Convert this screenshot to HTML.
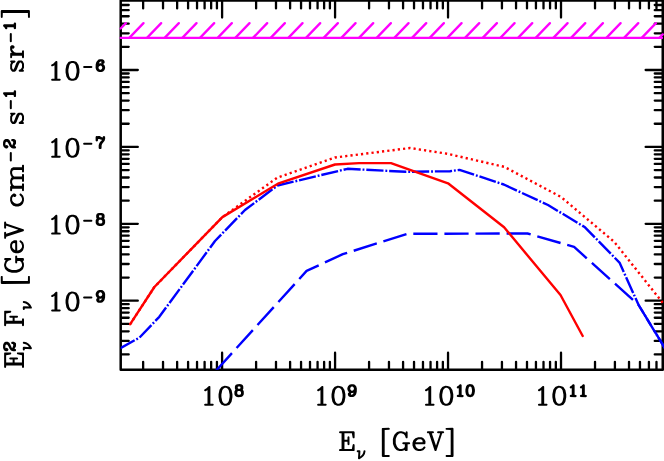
<!DOCTYPE html>
<html><head><meta charset="utf-8"><title>plot</title>
<style>html,body{margin:0;padding:0;background:#fff;font-family:"Liberation Sans",sans-serif}svg{display:block}</style>
</head><body>
<svg width="664" height="461" viewBox="0 0 664 461">
<rect width="664" height="461" fill="#fff"/>
<path d="M143.14,369.2v-7.4M143.14,1.05v7.4M163.03,369.2v-7.4M163.03,1.05v7.4M177.14,369.2v-7.4M177.14,1.05v7.4M188.09,369.2v-7.4M188.09,1.05v7.4M197.04,369.2v-7.4M197.04,1.05v7.4M204.60,369.2v-7.4M204.60,1.05v7.4M211.15,369.2v-7.4M211.15,1.05v7.4M216.93,369.2v-7.4M216.93,1.05v7.4M222.10,369.2v-16.5M222.10,1.05v16.5M256.11,369.2v-7.4M256.11,1.05v7.4M276.00,369.2v-7.4M276.00,1.05v7.4M290.11,369.2v-7.4M290.11,1.05v7.4M301.06,369.2v-7.4M301.06,1.05v7.4M310.01,369.2v-7.4M310.01,1.05v7.4M317.57,369.2v-7.4M317.57,1.05v7.4M324.12,369.2v-7.4M324.12,1.05v7.4M329.90,369.2v-7.4M329.90,1.05v7.4M335.07,369.2v-16.5M335.07,1.05v16.5M369.08,369.2v-7.4M369.08,1.05v7.4M388.97,369.2v-7.4M388.97,1.05v7.4M403.08,369.2v-7.4M403.08,1.05v7.4M414.03,369.2v-7.4M414.03,1.05v7.4M422.98,369.2v-7.4M422.98,1.05v7.4M430.54,369.2v-7.4M430.54,1.05v7.4M437.09,369.2v-7.4M437.09,1.05v7.4M442.87,369.2v-7.4M442.87,1.05v7.4M448.04,369.2v-16.5M448.04,1.05v16.5M482.05,369.2v-7.4M482.05,1.05v7.4M501.94,369.2v-7.4M501.94,1.05v7.4M516.05,369.2v-7.4M516.05,1.05v7.4M527.00,369.2v-7.4M527.00,1.05v7.4M535.95,369.2v-7.4M535.95,1.05v7.4M543.51,369.2v-7.4M543.51,1.05v7.4M550.06,369.2v-7.4M550.06,1.05v7.4M555.84,369.2v-7.4M555.84,1.05v7.4M561.01,369.2v-16.5M561.01,1.05v16.5M595.02,369.2v-7.4M595.02,1.05v7.4M614.91,369.2v-7.4M614.91,1.05v7.4M629.02,369.2v-7.4M629.02,1.05v7.4M639.97,369.2v-7.4M639.97,1.05v7.4M648.92,369.2v-7.4M648.92,1.05v7.4M656.48,369.2v-7.4M656.48,1.05v7.4M121.3,354.45h7.4M662.15,354.45h-7.4M121.3,340.91h7.4M662.15,340.91h-7.4M121.3,331.30h7.4M662.15,331.30h-7.4M121.3,323.85h7.4M662.15,323.85h-7.4M121.3,317.76h7.4M662.15,317.76h-7.4M121.3,312.61h7.4M662.15,312.61h-7.4M121.3,308.15h7.4M662.15,308.15h-7.4M121.3,304.22h7.4M662.15,304.22h-7.4M121.3,300.70h16.5M662.15,300.70h-16.5M121.3,277.55h7.4M662.15,277.55h-7.4M121.3,264.01h7.4M662.15,264.01h-7.4M121.3,254.40h7.4M662.15,254.40h-7.4M121.3,246.95h7.4M662.15,246.95h-7.4M121.3,240.86h7.4M662.15,240.86h-7.4M121.3,235.71h7.4M662.15,235.71h-7.4M121.3,231.25h7.4M662.15,231.25h-7.4M121.3,227.32h7.4M662.15,227.32h-7.4M121.3,223.80h16.5M662.15,223.80h-16.5M121.3,200.65h7.4M662.15,200.65h-7.4M121.3,187.11h7.4M662.15,187.11h-7.4M121.3,177.50h7.4M662.15,177.50h-7.4M121.3,170.05h7.4M662.15,170.05h-7.4M121.3,163.96h7.4M662.15,163.96h-7.4M121.3,158.81h7.4M662.15,158.81h-7.4M121.3,154.35h7.4M662.15,154.35h-7.4M121.3,150.42h7.4M662.15,150.42h-7.4M121.3,146.90h16.5M662.15,146.90h-16.5M121.3,123.75h7.4M662.15,123.75h-7.4M121.3,110.21h7.4M662.15,110.21h-7.4M121.3,100.60h7.4M662.15,100.60h-7.4M121.3,93.15h7.4M662.15,93.15h-7.4M121.3,87.06h7.4M662.15,87.06h-7.4M121.3,81.91h7.4M662.15,81.91h-7.4M121.3,77.45h7.4M662.15,77.45h-7.4M121.3,73.52h7.4M662.15,73.52h-7.4M121.3,70.00h16.5M662.15,70.00h-16.5M121.3,46.85h7.4M662.15,46.85h-7.4M121.3,33.31h7.4M662.15,33.31h-7.4M121.3,23.70h7.4M662.15,23.70h-7.4M121.3,16.25h7.4M662.15,16.25h-7.4M121.3,10.16h7.4M662.15,10.16h-7.4M121.3,5.01h7.4M662.15,5.01h-7.4" stroke="#000" stroke-width="2.3" fill="none" stroke-linecap="round"/>
<path d="M120.7,0.45H662.75V369.8H120.7Z" stroke="#000" stroke-width="2.5" fill="none" stroke-linejoin="round"/>
<clipPath id="c"><rect x="120.7" y="0" width="543.3" height="369.8"/></clipPath>
<g clip-path="url(#c)" fill="none" stroke-width="2.4" stroke-linejoin="round">
<path d="M208,379.5 L217.3,369.3 L306.6,270.9 L342.8,254.2 L407.5,233.8 L527.5,233.5 L574.1,246.9 L638.6,305 L666,350" stroke="#00f" stroke-dasharray="24.2 6.9" stroke-dashoffset="19.7"/>
<path d="M118,349.5 L139.5,337.6 L159.3,316.8 L215,241 L245,210 L277.5,185.5 L347.5,168.8 L405.5,171.8 L450,171.2 L459.5,169.9 L503.8,184.5 L548,205 L585,227.3 L619.5,262.6 L638.6,305 L666,350" stroke="#00f" stroke-dasharray="17.2 1.9 1.87 1.9" stroke-dashoffset="21.05"/>
<path d="M130.2,324.2 L154.4,287.0 L222.4,217.1 L277.5,177.5 L335,157.5 L410,148 L447.5,153.8 L504.5,166.9 L561.2,197.1 L614.3,241.9 L664,304.4" stroke="#f00" stroke-dasharray="2.2 3.1"/>
<path d="M130.2,324.2 L154.4,287.0 L222.4,217.1 L277.9,183.7 L335,164.5 L359,163.1 L391.0,163.1 L448,183.3 L504.1,227.3 L560.5,295 L582.7,336.0" stroke="#f00" stroke-linecap="round"/>
</g>
<path d="M120.70,28.45L125.83,23.10M129.30,37.90L143.50,23.10M146.97,37.90L161.17,23.10M164.64,37.90L178.84,23.10M182.31,37.90L196.51,23.10M199.98,37.90L214.18,23.10M217.65,37.90L231.85,23.10M235.32,37.90L249.52,23.10M252.99,37.90L267.19,23.10M270.66,37.90L284.86,23.10M288.33,37.90L302.53,23.10M306.00,37.90L320.20,23.10M323.67,37.90L337.87,23.10M341.34,37.90L355.54,23.10M359.01,37.90L373.21,23.10M376.68,37.90L390.88,23.10M394.35,37.90L408.55,23.10M412.02,37.90L426.22,23.10M429.69,37.90L443.89,23.10M447.36,37.90L461.56,23.10M465.03,37.90L479.23,23.10M482.70,37.90L496.90,23.10M500.37,37.90L514.57,23.10M518.04,37.90L532.24,23.10M535.71,37.90L549.91,23.10M553.38,37.90L567.58,23.10M571.05,37.90L585.25,23.10M588.72,37.90L602.92,23.10M606.39,37.90L620.59,23.10M624.06,37.90L638.26,23.10M641.73,37.90L655.93,23.10M659.40,37.90L662.75,34.41" stroke="#f0f" stroke-width="2.3" fill="none" stroke-linecap="round"/>
<path d="M120.7,37.9H662.0" stroke="#f0f" stroke-width="2.3" fill="none" stroke-linecap="round"/>
<path transform="translate(200.00,404.70)" d="M24.62,-18.88 21.88,-18.00 21.25,-17.56 19.62,-15.12 19.38,-14.50 18.56,-10.44 18.56,-7.38 19.44,-3.06 21.25,-0.31 21.81,0.12 24.25,0.94 26.38,1.00 29.06,0.19 29.75,-0.31 31.44,-2.81 31.62,-3.31 32.44,-7.38 32.44,-10.44 31.56,-14.75 29.75,-17.56 29.12,-18.00 26.69,-18.81ZM24.88,-16.88 26.06,-16.88 27.44,-16.19 28.12,-15.50 28.81,-14.12 29.62,-10.12 29.62,-7.75 28.81,-3.75 28.12,-2.38 27.38,-1.62 26.12,-1.00 24.81,-1.00 23.69,-1.56 22.88,-2.38 22.19,-3.75 21.38,-7.75 21.38,-10.12 22.19,-14.12 22.88,-15.50 23.62,-16.25ZM9.69,-18.81 9.06,-18.81 8.62,-18.56 6.19,-16.12 4.62,-15.38 4.69,-15.31 4.31,-15.00 4.12,-14.44 4.31,-13.88 4.56,-13.62 5.12,-13.44 5.62,-13.56 7.25,-14.38 7.31,-14.50 7.50,-14.50 7.50,-1.06 5.12,-1.00 4.56,-0.81 4.31,-0.56 4.12,0.00 4.31,0.56 4.81,0.94 12.75,1.00 13.31,0.81 13.69,0.31 13.69,-0.31 13.56,-0.56 13.06,-0.94 10.38,-1.06 10.38,-17.88 10.19,-18.44Z" fill-rule="evenodd"/>
<path transform="translate(234.00,396.00)" d="M3.56,-11.81 1.94,-11.19 1.44,-10.69 1.00,-9.81 0.88,-9.19 0.88,-7.62 1.00,-7.06 1.44,-6.19 0.94,-5.56 0.38,-4.44 0.38,-1.69 0.94,-0.50 1.69,0.31 2.31,0.69 4.06,1.19 6.56,1.12 7.88,0.69 8.50,0.31 9.19,-0.38 9.81,-1.69 9.81,-4.44 9.19,-5.75 8.75,-6.19 9.31,-7.25 9.31,-9.56 8.75,-10.69 7.94,-11.38 6.62,-11.81 6.12,-11.88ZM3.81,-4.69 4.31,-4.94 5.81,-4.94 6.44,-4.62 6.69,-4.38 7.00,-3.75 7.00,-2.31 6.69,-1.75 6.38,-1.44 5.88,-1.19 4.31,-1.19 3.81,-1.44 3.50,-1.75 3.25,-2.25 3.25,-3.88 3.50,-4.38ZM3.88,-9.19 4.31,-9.50 5.88,-9.50 6.25,-9.31 6.44,-9.00 6.44,-7.88 6.31,-7.62 5.88,-7.31 4.31,-7.31 4.06,-7.44 3.75,-7.88 3.75,-8.94Z" fill-rule="evenodd"/>
<path transform="translate(312.97,404.70)" d="M24.62,-18.88 21.88,-18.00 21.25,-17.56 19.62,-15.12 19.38,-14.50 18.56,-10.44 18.56,-7.38 19.44,-3.06 21.25,-0.31 21.81,0.12 24.25,0.94 26.38,1.00 29.06,0.19 29.75,-0.31 31.44,-2.81 31.62,-3.31 32.44,-7.38 32.44,-10.44 31.56,-14.75 29.75,-17.56 29.12,-18.00 26.69,-18.81ZM24.88,-16.88 26.06,-16.88 27.44,-16.19 28.12,-15.50 28.81,-14.12 29.62,-10.12 29.62,-7.75 28.81,-3.75 28.12,-2.38 27.38,-1.62 26.12,-1.00 24.81,-1.00 23.69,-1.56 22.88,-2.38 22.19,-3.75 21.38,-7.75 21.38,-10.12 22.19,-14.12 22.88,-15.50 23.62,-16.25ZM9.69,-18.81 9.06,-18.81 8.62,-18.56 6.19,-16.12 4.62,-15.38 4.69,-15.31 4.31,-15.00 4.12,-14.44 4.31,-13.88 4.56,-13.62 5.12,-13.44 5.62,-13.56 7.25,-14.38 7.31,-14.50 7.50,-14.50 7.50,-1.06 5.12,-1.00 4.56,-0.81 4.31,-0.56 4.12,0.00 4.31,0.56 4.81,0.94 12.75,1.00 13.31,0.81 13.69,0.31 13.69,-0.31 13.56,-0.56 13.06,-0.94 10.38,-1.06 10.38,-17.88 10.19,-18.44Z" fill-rule="evenodd"/>
<path transform="translate(346.97,396.00)" d="M6.12,-11.81 4.06,-11.81 2.44,-11.19 1.06,-9.81 0.38,-8.00 0.38,-6.75 0.88,-5.25 1.25,-4.81 1.19,-4.75 2.19,-3.75 1.19,-2.88 0.94,-2.44 0.94,-1.12 1.56,0.12 2.00,0.56 3.19,1.12 5.56,1.12 6.88,0.69 7.50,0.31 8.75,-1.00 9.25,-2.00 9.81,-4.19 9.88,-7.62 9.31,-9.56 9.00,-10.06 8.00,-11.06 7.94,-11.00 7.44,-11.38ZM6.62,-3.25 6.19,-2.25 5.38,-1.44 4.88,-1.19 3.88,-1.25 4.19,-1.69 4.25,-2.06 4.19,-2.44 3.75,-3.00 3.81,-3.06 4.56,-2.88 5.12,-2.88 6.50,-3.31ZM5.38,-9.50 5.88,-9.25 6.62,-8.50 7.00,-7.31 6.62,-6.25 6.00,-5.62 4.88,-5.25 4.25,-5.56 3.56,-6.25 3.25,-7.19 3.25,-7.56 3.56,-8.50 4.31,-9.25 4.81,-9.50Z" fill-rule="evenodd"/>
<path transform="translate(420.84,404.70)" d="M24.62,-18.88 21.88,-18.00 21.25,-17.56 19.62,-15.12 19.38,-14.50 18.56,-10.44 18.56,-7.38 19.44,-3.06 21.25,-0.31 21.81,0.12 24.25,0.94 26.38,1.00 29.06,0.19 29.75,-0.31 31.44,-2.81 31.62,-3.31 32.44,-7.38 32.44,-10.44 31.56,-14.75 29.75,-17.56 29.12,-18.00 26.69,-18.81ZM24.88,-16.88 26.06,-16.88 27.44,-16.19 28.12,-15.50 28.81,-14.12 29.62,-10.12 29.62,-7.75 28.81,-3.75 28.12,-2.38 27.38,-1.62 26.12,-1.00 24.81,-1.00 23.69,-1.56 22.88,-2.38 22.19,-3.75 21.38,-7.75 21.38,-10.12 22.19,-14.12 22.88,-15.50 23.62,-16.25ZM9.69,-18.81 9.06,-18.81 8.62,-18.56 6.19,-16.12 4.62,-15.38 4.69,-15.31 4.31,-15.00 4.12,-14.44 4.31,-13.88 4.56,-13.62 5.12,-13.44 5.62,-13.56 7.25,-14.38 7.31,-14.50 7.50,-14.50 7.50,-1.06 5.12,-1.00 4.56,-0.81 4.31,-0.56 4.12,0.00 4.31,0.56 4.81,0.94 12.75,1.00 13.31,0.81 13.69,0.31 13.69,-0.31 13.56,-0.56 13.06,-0.94 10.38,-1.06 10.38,-17.88 10.19,-18.44Z" fill-rule="evenodd"/>
<path transform="translate(454.84,396.00)" d="M14.81,-11.88 14.25,-11.81 12.62,-11.19 12.25,-10.88 11.25,-9.38 10.56,-6.50 10.56,-4.25 11.06,-1.81 11.31,-1.25 12.19,0.06 12.62,0.50 14.31,1.12 15.81,1.19 16.25,1.12 17.94,0.50 18.38,0.12 19.38,-1.38 19.56,-1.88 20.06,-4.38 20.06,-6.38 19.50,-9.06 18.44,-10.75 17.62,-11.38 16.31,-11.81ZM15.00,-9.50 15.56,-9.50 16.38,-9.00 16.75,-8.25 17.19,-6.06 17.19,-4.62 16.75,-2.44 16.38,-1.75 16.06,-1.44 15.56,-1.19 15.06,-1.19 14.56,-1.44 14.19,-1.81 13.81,-2.62 13.44,-4.50 13.44,-6.19 13.88,-8.31 14.19,-8.94 14.50,-9.25ZM6.00,-11.81 5.25,-11.81 4.81,-11.50 4.75,-11.56 3.31,-10.12 2.50,-9.75 1.94,-9.06 1.94,-8.31 2.44,-7.69 3.06,-7.50 3.81,-7.75 3.94,-7.69 3.94,-1.25 3.06,-1.19 2.44,-1.00 2.06,-0.62 1.88,0.00 2.06,0.62 2.69,1.12 7.62,1.19 8.25,1.00 8.75,0.38 8.75,-0.38 8.25,-1.00 8.00,-1.12 6.81,-1.25 6.81,-10.69 6.62,-11.31Z" fill-rule="evenodd"/>
<path transform="translate(533.81,404.70)" d="M24.62,-18.88 21.88,-18.00 21.25,-17.56 19.62,-15.12 19.38,-14.50 18.56,-10.44 18.56,-7.38 19.44,-3.06 21.25,-0.31 21.81,0.12 24.25,0.94 26.38,1.00 29.06,0.19 29.75,-0.31 31.44,-2.81 31.62,-3.31 32.44,-7.38 32.44,-10.44 31.56,-14.75 29.75,-17.56 29.12,-18.00 26.69,-18.81ZM24.88,-16.88 26.06,-16.88 27.44,-16.19 28.12,-15.50 28.81,-14.12 29.62,-10.12 29.62,-7.75 28.81,-3.75 28.12,-2.38 27.38,-1.62 26.12,-1.00 24.81,-1.00 23.69,-1.56 22.88,-2.38 22.19,-3.75 21.38,-7.75 21.38,-10.12 22.19,-14.12 22.88,-15.50 23.62,-16.25ZM9.69,-18.81 9.06,-18.81 8.62,-18.56 6.19,-16.12 4.62,-15.38 4.69,-15.31 4.31,-15.00 4.12,-14.44 4.31,-13.88 4.56,-13.62 5.12,-13.44 5.62,-13.56 7.25,-14.38 7.31,-14.50 7.50,-14.50 7.50,-1.06 5.12,-1.00 4.56,-0.81 4.31,-0.56 4.12,0.00 4.31,0.56 4.81,0.94 12.75,1.00 13.31,0.81 13.69,0.31 13.69,-0.31 13.56,-0.56 13.06,-0.94 10.38,-1.06 10.38,-17.88 10.19,-18.44Z" fill-rule="evenodd"/>
<path transform="translate(567.81,396.00)" d="M16.19,-11.81 15.44,-11.81 15.00,-11.56 13.56,-10.12 12.62,-9.69 12.12,-9.06 12.12,-8.31 12.62,-7.69 13.25,-7.50 14.06,-7.75 14.12,-7.69 14.12,-1.25 13.25,-1.19 12.62,-1.00 12.25,-0.62 12.06,0.00 12.25,0.62 12.88,1.12 17.88,1.19 18.50,1.00 19.00,0.38 19.00,-0.38 18.50,-1.00 18.25,-1.12 17.00,-1.25 17.00,-10.69 16.81,-11.31ZM6.00,-11.81 5.25,-11.81 4.81,-11.50 4.75,-11.56 3.31,-10.12 2.50,-9.75 1.94,-9.06 1.94,-8.31 2.44,-7.69 3.06,-7.50 3.81,-7.75 3.94,-7.69 3.94,-1.25 3.06,-1.19 2.44,-1.00 2.06,-0.62 1.88,0.00 2.06,0.62 2.69,1.12 7.62,1.19 8.25,1.00 8.75,0.38 8.75,-0.38 8.25,-1.00 8.00,-1.12 6.81,-1.25 6.81,-10.69 6.62,-11.31Z" fill-rule="evenodd"/>
<path transform="translate(47.00,79.80)" d="M24.62,-18.88 21.88,-18.00 21.25,-17.56 19.62,-15.12 19.38,-14.50 18.56,-10.44 18.56,-7.38 19.44,-3.06 21.25,-0.31 21.81,0.12 24.25,0.94 26.38,1.00 29.06,0.19 29.75,-0.31 31.44,-2.81 31.62,-3.31 32.44,-7.38 32.44,-10.44 31.56,-14.75 29.75,-17.56 29.12,-18.00 26.69,-18.81ZM24.88,-16.88 26.06,-16.88 27.44,-16.19 28.12,-15.50 28.81,-14.12 29.62,-10.12 29.62,-7.75 28.81,-3.75 28.12,-2.38 27.38,-1.62 26.12,-1.00 24.81,-1.00 23.69,-1.56 22.88,-2.38 22.19,-3.75 21.38,-7.75 21.38,-10.12 22.19,-14.12 22.88,-15.50 23.62,-16.25ZM9.69,-18.81 9.06,-18.81 8.62,-18.56 6.19,-16.12 4.62,-15.38 4.69,-15.31 4.31,-15.00 4.12,-14.44 4.31,-13.88 4.56,-13.62 5.12,-13.44 5.62,-13.56 7.25,-14.38 7.31,-14.50 7.50,-14.50 7.50,-1.06 5.12,-1.00 4.56,-0.81 4.31,-0.56 4.12,0.00 4.31,0.56 4.81,0.94 12.75,1.00 13.31,0.81 13.69,0.31 13.69,-0.31 13.56,-0.56 13.06,-0.94 10.38,-1.06 10.38,-17.88 10.19,-18.44Z" fill-rule="evenodd"/>
<path d="M84.10,66.90h7.3" stroke="#000" stroke-width="2" stroke-linecap="round" fill="none"/>
<path transform="translate(95.29,71.00)" d="M7.00,-11.81 4.56,-11.81 3.25,-11.38 2.75,-11.06 1.44,-9.62 0.88,-8.44 0.38,-6.50 0.31,-3.06 0.88,-1.19 1.19,-0.69 2.44,0.50 4.12,1.12 6.06,1.12 7.75,0.50 9.19,-0.88 9.81,-2.69 9.81,-4.00 9.19,-5.75 7.88,-7.00 8.44,-7.38 8.50,-7.31 9.19,-8.06 9.38,-8.69 9.31,-9.56 8.75,-10.69 8.12,-11.31ZM5.19,-5.44 5.88,-5.19 6.62,-4.44 7.00,-3.25 6.62,-2.19 5.88,-1.44 5.38,-1.19 4.88,-1.19 4.25,-1.50 3.56,-2.19 3.25,-3.12 3.25,-3.50 3.56,-4.38 4.31,-5.12ZM6.25,-9.44 6.00,-9.06 5.94,-8.69 6.00,-8.31 6.44,-7.69 6.38,-7.62 6.06,-7.75 5.12,-7.81 4.62,-7.75 3.81,-7.44 3.62,-7.50 4.00,-8.44 4.81,-9.25 5.31,-9.50Z" fill="#000" fill-rule="evenodd"/>
<path transform="translate(47.00,156.70)" d="M24.62,-18.88 21.88,-18.00 21.25,-17.56 19.62,-15.12 19.38,-14.50 18.56,-10.44 18.56,-7.38 19.44,-3.06 21.25,-0.31 21.81,0.12 24.25,0.94 26.38,1.00 29.06,0.19 29.75,-0.31 31.44,-2.81 31.62,-3.31 32.44,-7.38 32.44,-10.44 31.56,-14.75 29.75,-17.56 29.12,-18.00 26.69,-18.81ZM24.88,-16.88 26.06,-16.88 27.44,-16.19 28.12,-15.50 28.81,-14.12 29.62,-10.12 29.62,-7.75 28.81,-3.75 28.12,-2.38 27.38,-1.62 26.12,-1.00 24.81,-1.00 23.69,-1.56 22.88,-2.38 22.19,-3.75 21.38,-7.75 21.38,-10.12 22.19,-14.12 22.88,-15.50 23.62,-16.25ZM9.69,-18.81 9.06,-18.81 8.62,-18.56 6.19,-16.12 4.62,-15.38 4.69,-15.31 4.31,-15.00 4.12,-14.44 4.31,-13.88 4.56,-13.62 5.12,-13.44 5.62,-13.56 7.25,-14.38 7.31,-14.50 7.50,-14.50 7.50,-1.06 5.12,-1.00 4.56,-0.81 4.31,-0.56 4.12,0.00 4.31,0.56 4.81,0.94 12.75,1.00 13.31,0.81 13.69,0.31 13.69,-0.31 13.56,-0.56 13.06,-0.94 10.38,-1.06 10.38,-17.88 10.19,-18.44Z" fill-rule="evenodd"/>
<path d="M84.10,143.80h7.3" stroke="#000" stroke-width="2" stroke-linecap="round" fill="none"/>
<path transform="translate(95.29,147.90)" d="M1.12,-11.81 0.50,-11.31 0.31,-10.69 0.31,-7.62 0.50,-7.00 0.88,-6.62 1.50,-6.44 2.12,-6.62 2.62,-7.25 2.69,-8.38 2.88,-8.75 3.25,-9.00 3.94,-9.00 6.00,-8.12 6.56,-8.06 6.75,-7.94 4.75,-5.94 3.94,-4.38 3.38,-2.56 3.38,0.00 3.56,0.62 4.19,1.12 5.50,1.12 5.75,1.00 6.25,0.38 6.31,-2.50 6.69,-3.62 7.12,-4.50 9.31,-7.25 9.88,-9.19 9.81,-11.06 9.31,-11.69 8.69,-11.88 8.31,-11.81 7.56,-11.19 7.25,-10.50 6.94,-10.38 4.81,-11.69 4.44,-11.81 3.06,-11.88 2.69,-11.81 2.31,-11.56 1.88,-11.81Z" fill="#000" fill-rule="evenodd"/>
<path transform="translate(47.00,233.60)" d="M24.62,-18.88 21.88,-18.00 21.25,-17.56 19.62,-15.12 19.38,-14.50 18.56,-10.44 18.56,-7.38 19.44,-3.06 21.25,-0.31 21.81,0.12 24.25,0.94 26.38,1.00 29.06,0.19 29.75,-0.31 31.44,-2.81 31.62,-3.31 32.44,-7.38 32.44,-10.44 31.56,-14.75 29.75,-17.56 29.12,-18.00 26.69,-18.81ZM24.88,-16.88 26.06,-16.88 27.44,-16.19 28.12,-15.50 28.81,-14.12 29.62,-10.12 29.62,-7.75 28.81,-3.75 28.12,-2.38 27.38,-1.62 26.12,-1.00 24.81,-1.00 23.69,-1.56 22.88,-2.38 22.19,-3.75 21.38,-7.75 21.38,-10.12 22.19,-14.12 22.88,-15.50 23.62,-16.25ZM9.69,-18.81 9.06,-18.81 8.62,-18.56 6.19,-16.12 4.62,-15.38 4.69,-15.31 4.31,-15.00 4.12,-14.44 4.31,-13.88 4.56,-13.62 5.12,-13.44 5.62,-13.56 7.25,-14.38 7.31,-14.50 7.50,-14.50 7.50,-1.06 5.12,-1.00 4.56,-0.81 4.31,-0.56 4.12,0.00 4.31,0.56 4.81,0.94 12.75,1.00 13.31,0.81 13.69,0.31 13.69,-0.31 13.56,-0.56 13.06,-0.94 10.38,-1.06 10.38,-17.88 10.19,-18.44Z" fill-rule="evenodd"/>
<path d="M84.10,220.70h7.3" stroke="#000" stroke-width="2" stroke-linecap="round" fill="none"/>
<path transform="translate(95.29,224.80)" d="M3.56,-11.81 1.94,-11.19 1.44,-10.69 1.00,-9.81 0.88,-9.19 0.88,-7.62 1.00,-7.06 1.44,-6.19 0.94,-5.56 0.38,-4.44 0.38,-1.69 0.94,-0.50 1.69,0.31 2.31,0.69 4.06,1.19 6.56,1.12 7.88,0.69 8.50,0.31 9.19,-0.38 9.81,-1.69 9.81,-4.44 9.19,-5.75 8.75,-6.19 9.31,-7.25 9.31,-9.56 8.75,-10.69 7.94,-11.38 6.62,-11.81 6.12,-11.88ZM3.81,-4.69 4.31,-4.94 5.81,-4.94 6.44,-4.62 6.69,-4.38 7.00,-3.75 7.00,-2.31 6.69,-1.75 6.38,-1.44 5.88,-1.19 4.31,-1.19 3.81,-1.44 3.50,-1.75 3.25,-2.25 3.25,-3.88 3.50,-4.38ZM3.88,-9.19 4.31,-9.50 5.88,-9.50 6.25,-9.31 6.44,-9.00 6.44,-7.88 6.31,-7.62 5.88,-7.31 4.31,-7.31 4.06,-7.44 3.75,-7.88 3.75,-8.94Z" fill="#000" fill-rule="evenodd"/>
<path transform="translate(47.00,310.50)" d="M24.62,-18.88 21.88,-18.00 21.25,-17.56 19.62,-15.12 19.38,-14.50 18.56,-10.44 18.56,-7.38 19.44,-3.06 21.25,-0.31 21.81,0.12 24.25,0.94 26.38,1.00 29.06,0.19 29.75,-0.31 31.44,-2.81 31.62,-3.31 32.44,-7.38 32.44,-10.44 31.56,-14.75 29.75,-17.56 29.12,-18.00 26.69,-18.81ZM24.88,-16.88 26.06,-16.88 27.44,-16.19 28.12,-15.50 28.81,-14.12 29.62,-10.12 29.62,-7.75 28.81,-3.75 28.12,-2.38 27.38,-1.62 26.12,-1.00 24.81,-1.00 23.69,-1.56 22.88,-2.38 22.19,-3.75 21.38,-7.75 21.38,-10.12 22.19,-14.12 22.88,-15.50 23.62,-16.25ZM9.69,-18.81 9.06,-18.81 8.62,-18.56 6.19,-16.12 4.62,-15.38 4.69,-15.31 4.31,-15.00 4.12,-14.44 4.31,-13.88 4.56,-13.62 5.12,-13.44 5.62,-13.56 7.25,-14.38 7.31,-14.50 7.50,-14.50 7.50,-1.06 5.12,-1.00 4.56,-0.81 4.31,-0.56 4.12,0.00 4.31,0.56 4.81,0.94 12.75,1.00 13.31,0.81 13.69,0.31 13.69,-0.31 13.56,-0.56 13.06,-0.94 10.38,-1.06 10.38,-17.88 10.19,-18.44Z" fill-rule="evenodd"/>
<path d="M84.10,297.60h7.3" stroke="#000" stroke-width="2" stroke-linecap="round" fill="none"/>
<path transform="translate(95.29,301.70)" d="M6.12,-11.81 4.06,-11.81 2.44,-11.19 1.06,-9.81 0.38,-8.00 0.38,-6.75 0.88,-5.25 1.25,-4.81 1.19,-4.75 2.19,-3.75 1.19,-2.88 0.94,-2.44 0.94,-1.12 1.56,0.12 2.00,0.56 3.19,1.12 5.56,1.12 6.88,0.69 7.50,0.31 8.75,-1.00 9.25,-2.00 9.81,-4.19 9.88,-7.62 9.31,-9.56 9.00,-10.06 8.00,-11.06 7.94,-11.00 7.44,-11.38ZM6.62,-3.25 6.19,-2.25 5.38,-1.44 4.88,-1.19 3.88,-1.25 4.19,-1.69 4.25,-2.06 4.19,-2.44 3.75,-3.00 3.81,-3.06 4.56,-2.88 5.12,-2.88 6.50,-3.31ZM5.38,-9.50 5.88,-9.25 6.62,-8.50 7.00,-7.31 6.62,-6.25 6.00,-5.62 4.88,-5.25 4.25,-5.56 3.56,-6.25 3.25,-7.19 3.25,-7.56 3.56,-8.50 4.31,-9.25 4.81,-9.50Z" fill="#000" fill-rule="evenodd"/>
<path transform="translate(338.31,450.10)" d="M1.12,-18.69 0.88,-18.44 0.69,-17.88 0.88,-17.31 1.12,-17.06 1.69,-16.88 3.25,-16.81 3.25,-1.06 1.69,-1.00 1.12,-0.81 0.88,-0.56 0.69,0.00 0.88,0.56 1.12,0.81 1.69,1.00 15.31,1.00 15.88,0.81 16.12,0.56 16.31,0.00 16.31,-5.12 16.12,-5.69 15.88,-5.94 15.31,-6.12 14.75,-5.94 14.38,-5.44 13.56,-1.00 6.12,-1.06 6.19,-8.38 9.12,-8.38 9.25,-5.62 9.38,-5.38 9.88,-5.00 10.19,-4.94 10.75,-5.12 11.00,-5.38 11.19,-5.94 11.12,-13.06 10.75,-13.56 10.19,-13.75 9.62,-13.56 9.38,-13.31 9.19,-12.75 9.12,-10.38 6.19,-10.38 6.12,-16.81 13.56,-16.88 14.31,-12.56 14.75,-11.94 15.31,-11.75 15.88,-11.94 16.12,-12.19 16.31,-12.75 16.31,-17.88 16.12,-18.44 15.88,-18.69 15.31,-18.88 1.69,-18.88Z" fill="#000" fill-rule="evenodd"/>
<path transform="translate(357.70,458.30)" d="M0,-7.1 L1.7,-7.1 L1.3,0 C4.5,-1.6 6.6,-4.2 6.8,-7.1" stroke="#000" stroke-width="2" fill="none" stroke-linecap="round" stroke-linejoin="round"/>
<path transform="translate(379.43,450.10)" d="M38.81,-12.88 36.00,-11.88 34.12,-10.06 33.88,-9.69 33.06,-7.25 33.06,-4.69 33.88,-2.25 34.19,-1.88 34.12,-1.81 35.81,-0.12 35.88,-0.19 36.25,0.12 38.69,0.94 41.25,0.94 43.69,0.12 44.06,-0.12 45.88,-2.00 46.06,-2.56 45.88,-3.12 45.38,-3.50 44.75,-3.50 44.31,-3.25 42.75,-1.69 40.69,-1.00 39.31,-1.00 38.06,-1.62 36.56,-3.12 35.88,-5.12 35.88,-5.75 45.38,-5.88 45.62,-6.00 46.00,-6.50 46.06,-8.50 45.94,-9.00 45.12,-10.62 44.88,-10.88 44.94,-10.94 43.75,-12.00 42.12,-12.81ZM36.25,-7.94 36.50,-8.69 38.06,-10.25 39.31,-10.88 41.50,-10.88 42.69,-10.19 43.19,-9.12 43.12,-7.81 36.31,-7.81ZM48.12,-18.81 47.62,-18.44 47.44,-17.88 47.62,-17.31 48.12,-16.94 49.38,-16.88 49.50,-16.75 55.12,0.31 55.56,0.81 55.81,0.94 56.44,0.94 56.69,0.81 57.06,0.31 62.69,-16.69 62.81,-16.88 63.75,-16.88 64.31,-17.06 64.69,-17.56 64.69,-18.19 64.31,-18.69 63.75,-18.88 58.62,-18.88 58.06,-18.69 57.81,-18.44 57.62,-17.88 57.81,-17.31 58.06,-17.06 58.62,-16.88 60.56,-16.88 60.62,-16.69 56.62,-4.69 56.50,-4.62 52.44,-16.69 52.50,-16.88 53.56,-16.88 54.12,-17.06 54.38,-17.31 54.56,-17.88 54.38,-18.44 54.12,-18.69 53.56,-18.88ZM17.62,-18.00 17.12,-17.69 15.31,-15.88 14.38,-14.06 14.44,-14.00 14.31,-13.88 13.44,-11.06 13.50,-6.44 14.31,-4.00 14.44,-3.88 14.38,-3.81 15.44,-1.81 17.12,-0.12 17.19,-0.19 17.56,0.12 20.00,0.94 22.56,0.94 24.81,0.19 25.31,-0.19 25.56,0.56 26.06,0.94 26.38,1.00 26.81,0.88 27.19,1.00 27.75,0.81 28.00,0.56 28.19,0.00 28.19,-5.75 29.75,-5.81 30.31,-6.00 30.56,-6.25 30.75,-6.81 30.56,-7.38 30.31,-7.62 29.75,-7.81 23.81,-7.81 23.25,-7.62 23.00,-7.38 22.81,-6.81 23.00,-6.25 23.25,-6.00 23.81,-5.81 25.38,-5.75 25.38,-3.00 24.06,-1.69 22.00,-1.00 20.56,-1.00 19.31,-1.62 17.81,-3.12 17.06,-4.62 16.31,-6.88 16.31,-11.00 17.00,-13.06 17.75,-14.62 19.38,-16.25 20.62,-16.88 21.94,-16.88 24.12,-16.12 25.50,-14.69 26.38,-12.19 26.62,-11.94 27.19,-11.75 27.75,-11.94 28.00,-12.19 28.19,-12.75 28.19,-17.88 28.00,-18.44 27.75,-18.69 27.19,-18.88 26.62,-18.69 26.38,-18.44 25.88,-17.19 25.38,-17.69 24.88,-18.00 22.12,-18.88 20.38,-18.88ZM66.81,-22.19 66.31,-21.81 66.12,-21.25 66.31,-20.69 66.81,-20.31 71.25,-20.19 71.25,4.88 66.81,5.00 66.31,5.38 66.12,5.94 66.19,6.25 66.56,6.75 67.12,6.94 73.44,6.88 73.94,6.50 74.12,5.94 74.06,-21.56 73.69,-22.06 73.12,-22.25ZM3.06,-22.19 2.56,-21.81 2.38,-21.25 2.44,6.25 2.81,6.75 3.38,6.94 9.69,6.88 10.19,6.50 10.38,5.94 10.19,5.38 9.69,5.00 5.25,4.88 5.25,-20.19 9.69,-20.31 10.19,-20.69 10.38,-21.25 10.31,-21.56 9.94,-22.06 9.38,-22.25Z" fill="#000" fill-rule="evenodd"/>
<g transform="translate(23.0,368.0) rotate(-90)">
<path transform="translate(-0.69,0.00)" d="M1.12,-18.69 0.88,-18.44 0.69,-17.88 0.88,-17.31 1.12,-17.06 1.69,-16.88 3.25,-16.81 3.25,-1.06 1.69,-1.00 1.12,-0.81 0.88,-0.56 0.69,0.00 0.88,0.56 1.12,0.81 1.69,1.00 15.31,1.00 15.88,0.81 16.12,0.56 16.31,0.00 16.31,-5.12 16.12,-5.69 15.88,-5.94 15.31,-6.12 14.75,-5.94 14.38,-5.44 13.56,-1.00 6.12,-1.06 6.19,-8.38 9.12,-8.38 9.25,-5.62 9.38,-5.38 9.88,-5.00 10.19,-4.94 10.75,-5.12 11.00,-5.38 11.19,-5.94 11.12,-13.06 10.75,-13.56 10.19,-13.75 9.62,-13.56 9.38,-13.31 9.19,-12.75 9.12,-10.38 6.19,-10.38 6.12,-16.81 13.56,-16.88 14.31,-12.56 14.75,-11.94 15.31,-11.75 15.88,-11.94 16.12,-12.19 16.31,-12.75 16.31,-17.88 16.12,-18.44 15.88,-18.69 15.31,-18.88 1.69,-18.88Z" fill="#000" fill-rule="evenodd"/>
<path transform="translate(16.39,-8.10)" d="M2.25,-11.38 1.75,-11.00 1.69,-11.06 1.19,-10.56 0.38,-9.06 0.38,-7.81 0.69,-7.31 1.44,-6.62 2.06,-6.44 2.44,-6.50 3.38,-7.31 3.69,-7.81 3.75,-8.19 3.56,-8.81 3.25,-9.12 4.12,-9.50 5.88,-9.50 6.50,-9.19 7.00,-8.38 7.00,-7.94 6.62,-7.38 5.31,-6.50 2.56,-5.19 1.19,-3.88 0.88,-3.38 0.38,-1.88 0.38,0.38 0.88,1.00 1.50,1.19 1.88,1.12 2.50,0.62 2.69,-0.25 2.81,-0.31 5.25,1.12 8.00,1.12 8.50,0.81 9.19,0.12 9.81,-1.12 9.81,-2.94 9.31,-3.56 8.69,-3.75 8.06,-3.56 7.56,-2.94 7.50,-2.06 6.88,-1.69 5.81,-1.69 3.31,-2.69 3.75,-3.12 7.44,-4.69 8.75,-5.56 9.19,-6.00 9.81,-7.25 9.88,-8.69 9.75,-9.25 9.25,-10.25 8.50,-11.06 8.44,-11.00 7.94,-11.38 6.62,-11.81 4.06,-11.88 3.56,-11.81Z" fill="#000" fill-rule="evenodd"/>
<path transform="translate(18.50,7.90)" d="M0,-7.1 L1.7,-7.1 L1.3,0 C4.5,-1.6 6.6,-4.2 6.8,-7.1" stroke="#000" stroke-width="2" fill="none" stroke-linecap="round" stroke-linejoin="round"/>
<path transform="translate(41.01,0.00)" d="M15.62,-18.81 1.69,-18.88 1.12,-18.69 0.88,-18.44 0.69,-17.88 0.88,-17.31 1.12,-17.06 1.69,-16.88 3.25,-16.81 3.25,-1.06 1.69,-1.00 1.12,-0.81 0.88,-0.56 0.69,0.00 0.88,0.56 1.12,0.81 1.69,1.00 7.62,1.00 8.19,0.81 8.44,0.56 8.62,0.00 8.44,-0.56 8.19,-0.81 7.62,-1.00 6.12,-1.06 6.19,-8.38 9.12,-8.38 9.19,-5.94 9.38,-5.38 9.62,-5.12 10.19,-4.94 10.75,-5.12 11.12,-5.62 11.12,-13.06 10.75,-13.56 10.19,-13.75 9.62,-13.56 9.38,-13.31 9.19,-12.75 9.12,-10.38 6.19,-10.38 6.12,-16.81 13.56,-16.88 14.31,-12.56 14.75,-11.94 15.31,-11.75 15.62,-11.81 16.12,-12.19 16.31,-12.75 16.31,-17.88 16.12,-18.44Z" fill="#000" fill-rule="evenodd"/>
<path transform="translate(59.10,7.90)" d="M0,-7.1 L1.7,-7.1 L1.3,0 C4.5,-1.6 6.6,-4.2 6.8,-7.1" stroke="#000" stroke-width="2" fill="none" stroke-linecap="round" stroke-linejoin="round"/>
<path transform="translate(81.72,0.00)" d="M95.12,-12.19 95.12,-11.56 95.50,-11.06 96.06,-10.88 97.62,-10.81 97.62,-1.06 95.75,-0.94 95.25,-0.56 95.06,0.00 95.25,0.56 95.75,0.94 102.00,1.00 102.56,0.81 102.81,0.56 103.00,0.00 102.81,-0.56 102.56,-0.81 102.00,-1.00 100.44,-1.06 100.44,-8.88 101.81,-10.25 103.69,-10.88 105.25,-10.88 106.25,-10.38 106.44,-10.19 106.94,-9.12 106.94,-1.06 105.38,-1.00 104.81,-0.81 104.56,-0.56 104.38,0.00 104.56,0.56 104.81,0.81 105.38,1.00 111.38,1.00 111.94,0.81 112.19,0.56 112.38,0.00 112.19,-0.56 111.94,-0.81 111.38,-1.00 109.81,-1.06 109.81,-8.94 111.06,-10.19 113.06,-10.88 114.62,-10.88 115.75,-10.25 116.31,-9.12 116.31,-1.06 114.75,-1.00 114.19,-0.81 113.94,-0.56 113.75,0.00 113.94,0.56 114.19,0.81 114.75,1.00 120.69,1.00 121.25,0.81 121.62,0.31 121.62,-0.31 121.25,-0.81 120.69,-1.00 119.12,-1.06 119.06,-9.81 118.12,-11.62 117.50,-12.06 115.06,-12.88 112.75,-12.88 110.31,-12.06 109.94,-11.88 109.12,-11.06 108.50,-11.88 105.69,-12.88 103.38,-12.88 100.94,-12.06 100.50,-11.81 100.25,-12.44 100.00,-12.69 99.44,-12.88 96.06,-12.88 95.50,-12.69ZM85.56,-12.88 82.75,-11.88 80.88,-10.06 80.62,-9.69 79.81,-7.25 79.81,-4.69 80.62,-2.25 80.94,-1.88 80.88,-1.81 82.56,-0.12 82.62,-0.19 83.00,0.12 85.44,0.94 88.00,0.94 90.44,0.12 90.81,-0.12 92.50,-1.81 92.75,-2.25 92.75,-2.88 92.38,-3.38 91.81,-3.56 91.50,-3.50 91.06,-3.25 89.50,-1.69 87.44,-1.00 86.06,-1.00 84.81,-1.62 83.31,-3.12 82.62,-5.12 82.62,-6.81 83.25,-8.69 84.81,-10.25 86.06,-10.88 88.25,-10.88 89.38,-10.31 89.94,-9.75 89.38,-9.19 89.19,-8.81 89.19,-8.19 89.38,-7.81 90.38,-6.81 90.94,-6.62 91.69,-6.94 92.62,-7.94 92.81,-8.50 92.81,-9.38 92.62,-9.94 90.69,-11.88 88.88,-12.81ZM38.81,-12.88 36.00,-11.88 34.12,-10.06 33.88,-9.69 33.06,-7.25 33.06,-4.69 33.88,-2.25 34.19,-1.88 34.12,-1.81 35.81,-0.12 35.88,-0.19 36.25,0.12 38.69,0.94 41.25,0.94 43.69,0.12 44.06,-0.12 45.88,-2.00 46.06,-2.56 45.88,-3.12 45.38,-3.50 44.75,-3.50 44.31,-3.25 42.75,-1.69 40.69,-1.00 39.31,-1.00 38.06,-1.62 36.56,-3.12 35.88,-5.12 35.88,-5.75 45.38,-5.88 45.62,-6.00 46.00,-6.50 46.06,-8.50 45.94,-9.00 45.12,-10.62 44.88,-10.88 44.94,-10.94 43.75,-12.00 42.12,-12.81ZM36.25,-7.94 36.50,-8.69 38.06,-10.25 39.31,-10.88 41.50,-10.88 42.69,-10.19 43.19,-9.12 43.12,-7.81 36.31,-7.81ZM48.12,-18.81 47.62,-18.44 47.44,-17.88 47.62,-17.31 48.12,-16.94 49.38,-16.88 49.50,-16.75 55.12,0.31 55.56,0.81 55.81,0.94 56.44,0.94 56.69,0.81 57.06,0.31 62.69,-16.69 62.81,-16.88 63.75,-16.88 64.31,-17.06 64.69,-17.56 64.69,-18.19 64.31,-18.69 63.75,-18.88 58.62,-18.88 58.06,-18.69 57.81,-18.44 57.62,-17.88 57.81,-17.31 58.06,-17.06 58.62,-16.88 60.56,-16.88 60.62,-16.69 56.62,-4.69 56.50,-4.62 52.44,-16.69 52.50,-16.88 53.56,-16.88 54.12,-17.06 54.38,-17.31 54.56,-17.88 54.38,-18.44 54.12,-18.69 53.56,-18.88ZM17.62,-18.00 17.12,-17.69 15.31,-15.88 14.38,-14.06 14.44,-14.00 14.31,-13.88 13.44,-11.06 13.50,-6.44 14.31,-4.00 14.44,-3.88 14.38,-3.81 15.44,-1.81 17.12,-0.12 17.19,-0.19 17.56,0.12 20.00,0.94 22.56,0.94 24.81,0.19 25.31,-0.19 25.56,0.56 26.06,0.94 26.38,1.00 26.81,0.88 27.19,1.00 27.75,0.81 28.00,0.56 28.19,0.00 28.19,-5.75 29.75,-5.81 30.31,-6.00 30.56,-6.25 30.75,-6.81 30.56,-7.38 30.31,-7.62 29.75,-7.81 23.81,-7.81 23.25,-7.62 23.00,-7.38 22.81,-6.81 23.00,-6.25 23.25,-6.00 23.81,-5.81 25.38,-5.75 25.38,-3.00 24.06,-1.69 22.00,-1.00 20.56,-1.00 19.31,-1.62 17.81,-3.12 17.06,-4.62 16.31,-6.88 16.31,-11.00 17.00,-13.06 17.75,-14.62 19.38,-16.25 20.62,-16.88 21.94,-16.88 24.12,-16.12 25.50,-14.69 26.38,-12.19 26.62,-11.94 27.19,-11.75 27.75,-11.94 28.00,-12.19 28.19,-12.75 28.19,-17.88 28.00,-18.44 27.75,-18.69 27.19,-18.88 26.62,-18.69 26.38,-18.44 25.88,-17.19 25.38,-17.69 24.88,-18.00 22.12,-18.88 20.38,-18.88ZM3.06,-22.19 2.56,-21.81 2.38,-21.25 2.44,6.25 2.81,6.75 3.38,6.94 9.69,6.88 10.19,6.50 10.38,5.94 10.19,5.38 9.69,5.00 5.25,4.88 5.25,-20.19 9.69,-20.31 10.19,-20.69 10.38,-21.25 10.31,-21.56 9.94,-22.06 9.38,-22.25Z" fill="#000" fill-rule="evenodd"/>
<path d="M207.60,-12.20h7.3" stroke="#000" stroke-width="2" stroke-linecap="round" fill="none"/>
<path transform="translate(219.19,-8.10)" d="M2.25,-11.38 1.75,-11.00 1.69,-11.06 1.19,-10.56 0.38,-9.06 0.38,-7.81 0.69,-7.31 1.44,-6.62 2.06,-6.44 2.44,-6.50 3.38,-7.31 3.69,-7.81 3.75,-8.19 3.56,-8.81 3.25,-9.12 4.12,-9.50 5.88,-9.50 6.50,-9.19 7.00,-8.38 7.00,-7.94 6.62,-7.38 5.31,-6.50 2.56,-5.19 1.19,-3.88 0.88,-3.38 0.38,-1.88 0.38,0.38 0.88,1.00 1.50,1.19 1.88,1.12 2.50,0.62 2.69,-0.25 2.81,-0.31 5.25,1.12 8.00,1.12 8.50,0.81 9.19,0.12 9.81,-1.12 9.81,-2.94 9.31,-3.56 8.69,-3.75 8.06,-3.56 7.56,-2.94 7.50,-2.06 6.88,-1.69 5.81,-1.69 3.31,-2.69 3.75,-3.12 7.44,-4.69 8.75,-5.56 9.19,-6.00 9.81,-7.25 9.88,-8.69 9.75,-9.25 9.25,-10.25 8.50,-11.06 8.44,-11.00 7.94,-11.38 6.62,-11.81 4.06,-11.88 3.56,-11.81Z" fill="#000" fill-rule="evenodd"/>
<path transform="translate(242.44,0.00)" d="M4.62,-12.81 3.00,-12.00 1.81,-10.94 1.88,-10.88 1.62,-10.50 1.56,-10.19 1.56,-8.50 1.81,-7.81 2.81,-6.81 4.62,-5.88 4.69,-5.94 8.56,-4.38 10.44,-3.44 10.88,-3.00 10.88,-2.12 10.38,-1.62 9.12,-1.00 6.12,-1.00 5.00,-1.56 4.19,-2.38 3.50,-3.81 3.12,-4.19 2.56,-4.38 2.25,-4.31 1.75,-3.94 1.56,-3.38 1.62,0.31 2.00,0.81 2.56,1.00 3.12,0.81 3.75,-0.06 3.81,0.06 5.44,0.88 5.94,1.00 9.38,1.00 9.88,0.88 11.75,-0.12 12.62,-1.00 12.81,-1.38 12.88,-4.25 12.62,-4.94 11.44,-6.06 9.81,-6.88 5.62,-8.50 4.00,-9.31 3.56,-9.75 4.06,-10.25 5.31,-10.88 8.38,-10.88 9.56,-10.25 10.25,-9.56 10.94,-8.12 11.31,-7.69 11.88,-7.50 12.19,-7.56 12.69,-7.94 12.88,-8.50 12.81,-12.19 12.44,-12.69 11.88,-12.88 11.31,-12.69 11.00,-12.38 10.75,-11.88 8.94,-12.81Z" fill="#000" fill-rule="evenodd"/>
<path d="M259.70,-12.20h7.3" stroke="#000" stroke-width="2" stroke-linecap="round" fill="none"/>
<path transform="translate(269.02,-8.10)" d="M6.00,-11.81 5.25,-11.81 4.81,-11.50 4.75,-11.56 3.31,-10.12 2.50,-9.75 1.94,-9.06 1.94,-8.31 2.44,-7.69 3.06,-7.50 3.81,-7.75 3.94,-7.69 3.94,-1.25 3.06,-1.19 2.44,-1.00 2.06,-0.62 1.88,0.00 2.06,0.62 2.69,1.12 7.62,1.19 8.25,1.00 8.75,0.38 8.75,-0.38 8.25,-1.00 8.00,-1.12 6.81,-1.25 6.81,-10.69 6.62,-11.31Z" fill="#000" fill-rule="evenodd"/>
<path transform="translate(294.64,0.00)" d="M15.81,-12.81 15.56,-12.69 15.19,-12.19 15.12,-11.88 15.31,-11.31 15.81,-10.94 17.69,-10.81 17.69,-1.06 16.12,-1.00 15.56,-0.81 15.19,-0.31 15.19,0.31 15.56,0.81 16.12,1.00 22.44,0.94 22.69,0.81 23.06,0.31 23.12,0.00 22.94,-0.56 22.44,-0.94 20.56,-1.06 20.56,-6.75 21.19,-8.62 22.75,-10.25 24.00,-10.88 24.69,-10.88 24.75,-10.81 24.50,-10.19 24.69,-9.62 25.62,-8.62 25.69,-8.69 26.06,-8.44 26.38,-8.38 27.06,-8.62 27.94,-9.50 28.12,-9.88 28.12,-11.38 27.94,-11.75 27.06,-12.62 26.38,-12.88 23.31,-12.81 21.69,-12.00 20.62,-11.00 20.50,-12.19 20.38,-12.44 19.88,-12.81ZM4.62,-12.81 3.00,-12.00 1.81,-10.94 1.88,-10.88 1.62,-10.50 1.56,-10.19 1.56,-8.50 1.81,-7.81 2.81,-6.81 4.62,-5.88 4.69,-5.94 8.56,-4.38 10.44,-3.44 10.88,-3.00 10.88,-2.12 10.38,-1.62 9.12,-1.00 6.12,-1.00 5.00,-1.56 4.19,-2.38 3.50,-3.81 3.12,-4.19 2.56,-4.38 2.25,-4.31 1.75,-3.94 1.56,-3.38 1.62,0.31 2.00,0.81 2.56,1.00 3.12,0.81 3.75,-0.06 3.81,0.06 5.44,0.88 5.94,1.00 9.38,1.00 9.88,0.88 11.75,-0.12 12.62,-1.00 12.81,-1.38 12.88,-4.25 12.62,-4.94 11.44,-6.06 9.81,-6.88 5.62,-8.50 4.00,-9.31 3.56,-9.75 4.06,-10.25 5.31,-10.88 8.38,-10.88 9.56,-10.25 10.25,-9.56 10.94,-8.12 11.31,-7.69 11.88,-7.50 12.19,-7.56 12.69,-7.94 12.88,-8.50 12.81,-12.19 12.44,-12.69 11.88,-12.88 11.31,-12.69 11.00,-12.38 10.75,-11.88 8.94,-12.81Z" fill="#000" fill-rule="evenodd"/>
<path d="M326.80,-12.20h7.3" stroke="#000" stroke-width="2" stroke-linecap="round" fill="none"/>
<path transform="translate(336.82,-8.10)" d="M6.00,-11.81 5.25,-11.81 4.81,-11.50 4.75,-11.56 3.31,-10.12 2.50,-9.75 1.94,-9.06 1.94,-8.31 2.44,-7.69 3.06,-7.50 3.81,-7.75 3.94,-7.69 3.94,-1.25 3.06,-1.19 2.44,-1.00 2.06,-0.62 1.88,0.00 2.06,0.62 2.69,1.12 7.62,1.19 8.25,1.00 8.75,0.38 8.75,-0.38 8.25,-1.00 8.00,-1.12 6.81,-1.25 6.81,-10.69 6.62,-11.31Z" fill="#000" fill-rule="evenodd"/>
<path transform="translate(348.44,0.00)" d="M2.25,-22.19 1.75,-21.81 1.56,-21.25 1.75,-20.69 2.25,-20.31 6.62,-20.19 6.62,4.88 2.25,5.00 1.75,5.38 1.56,5.94 1.62,6.25 2.00,6.75 2.56,6.94 8.81,6.88 9.31,6.50 9.50,5.94 9.44,-21.56 9.06,-22.06 8.50,-22.25Z" fill="#000" fill-rule="evenodd"/>
</g>
</svg>
</body></html>
